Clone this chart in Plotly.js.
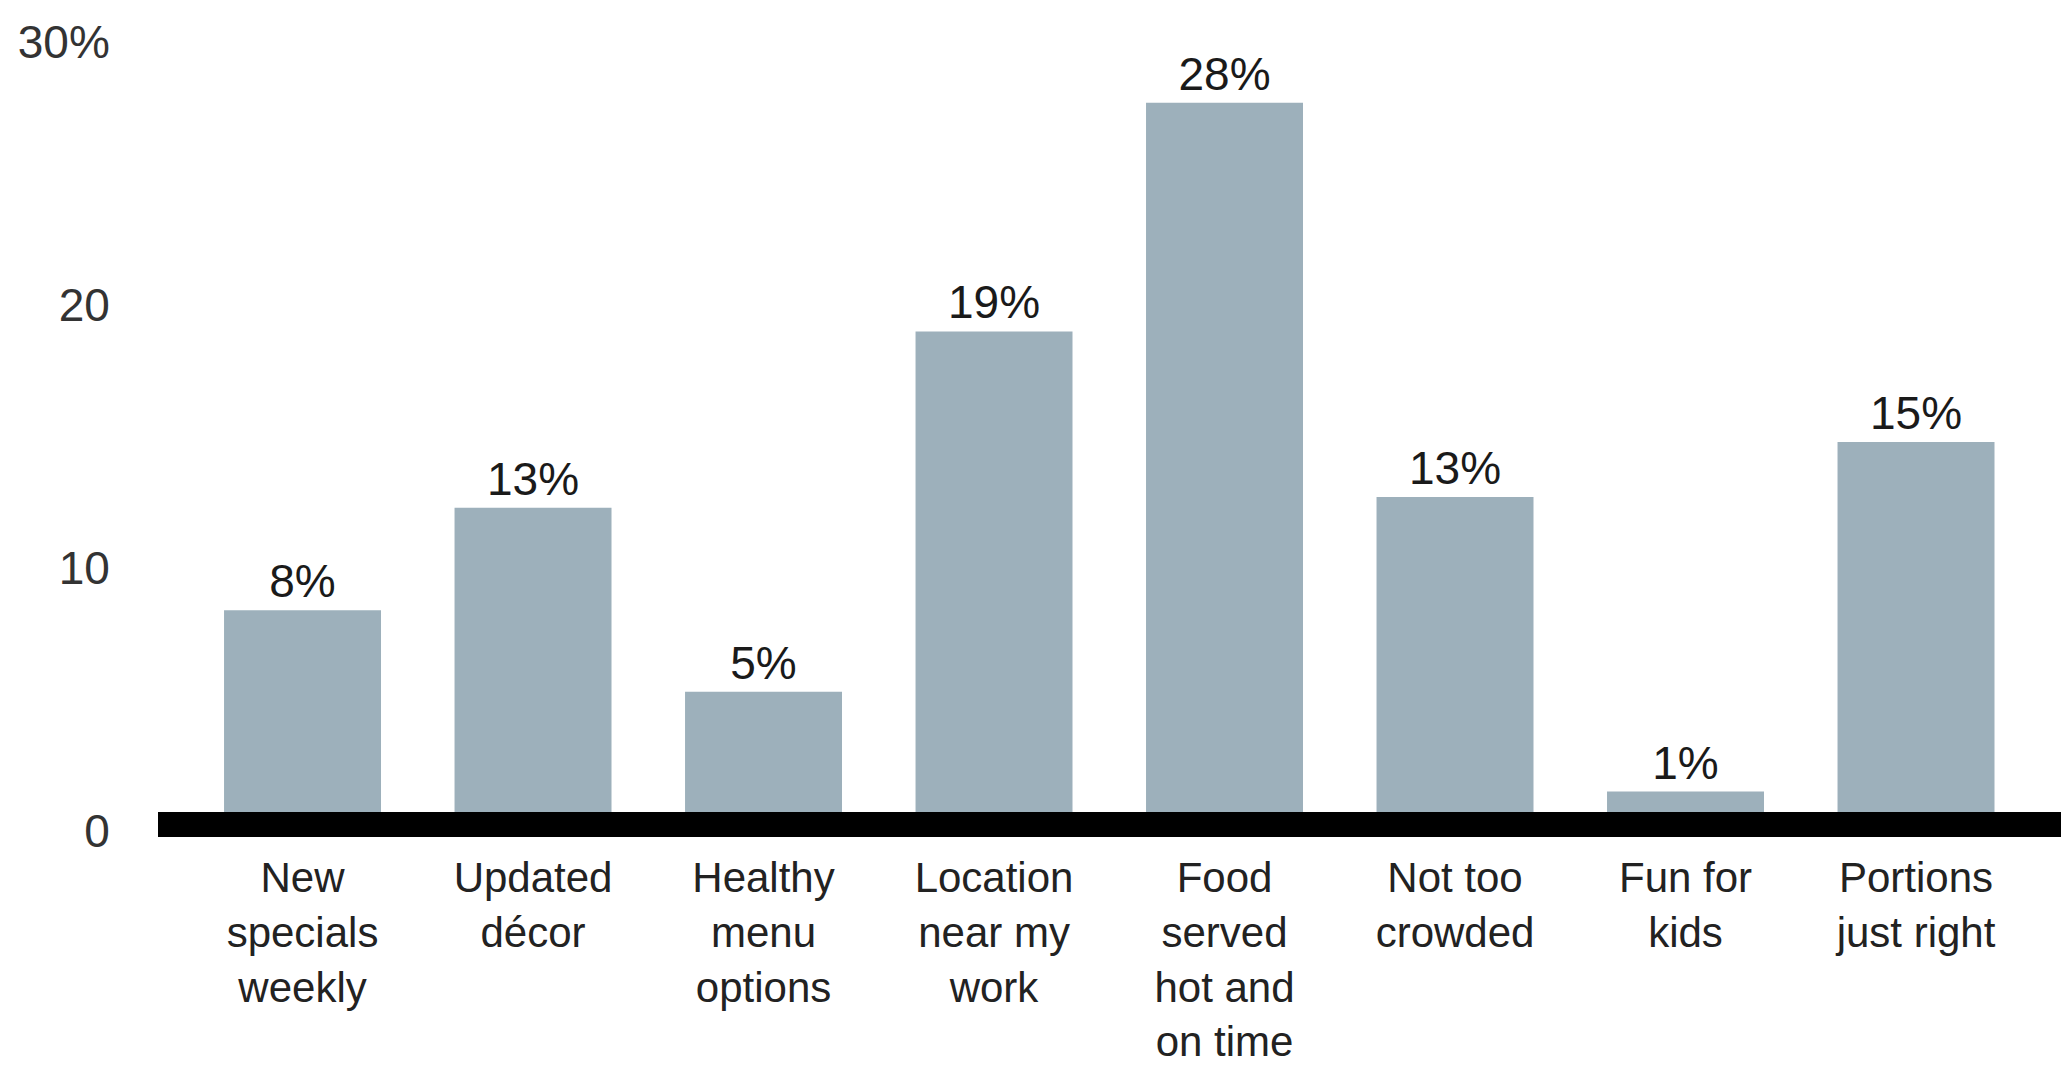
<!DOCTYPE html>
<html>
<head>
<meta charset="utf-8">
<script src="https://cdn.plot.ly/plotly-3.0.1.min.js"></script>
<style>html,body{margin:0;padding:0;background:#fff;}#chart{width:2061px;height:1072px;}</style>
</head>
<body>
<div id="chart"></div>
<script>
// Data
const categories = [
  "New<br>specials<br>weekly",
  "Updated<br>décor",
  "Healthy<br>menu<br>options",
  "Location<br>near my<br>work",
  "Food<br>served<br>hot and<br>on time",
  "Not too<br>crowded",
  "Fun for<br>kids",
  "Portions<br>just right"
];
const values = [8.4, 12.3, 5.3, 19.0, 27.7, 12.7, 1.5, 14.8];
const valueLabels = ["8%", "13%", "5%", "19%", "28%", "13%", "1%", "15%"];
const yTickVals = [0, 10, 20, 30];
const yTickText = ["0", "10", "20", "30%"];

const FONT = "Liberation Sans, Arial, sans-serif";

const trace = {
  type: "bar",
  x: categories,
  y: values,
  text: valueLabels,
  textposition: "outside",
  textfont: {family: FONT, size: 46, color: "#1a1a1a"},
  cliponaxis: false,
  marker: {color: "#9db0bb", line: {width: 0}},
  hoverinfo: "skip"
};

const layout = {
  width: 2061,
  height: 1072,
  margin: {l: 158, r: 0, t: 16, b: 235},
  paper_bgcolor: "#ffffff",
  plot_bgcolor: "#ffffff",
  showlegend: false,
  bargap: 0.319,
  font: {family: FONT, size: 42, color: "#222"},
  xaxis: {
    type: "category",
    range: [-0.627, 7.629],
    showgrid: false,
    zeroline: false,
    showline: false,
    ticks: "outside",
    ticklen: 4,
    tickcolor: "rgba(0,0,0,0)",
    tickfont: {family: FONT, size: 42, color: "#222"}
  },
  yaxis: {
    range: [-0.228, 31],
    tickvals: yTickVals,
    ticktext: yTickText,
    showgrid: false,
    zeroline: false,
    showline: false,
    ticks: "outside",
    ticklen: 38,
    tickcolor: "rgba(0,0,0,0)",
    tickfont: {family: FONT, size: 46, color: "#333"}
  },
  shapes: [{
    type: "rect",
    xref: "paper", yref: "y",
    x0: 0, x1: 1,
    y0: -0.23, y1: 0.72,
    fillcolor: "#000000",
    line: {width: 0},
    layer: "above"
  }]
};

Plotly.newPlot("chart", [trace], layout, {displayModeBar: false, staticPlot: true});
</script>
</body>
</html>
